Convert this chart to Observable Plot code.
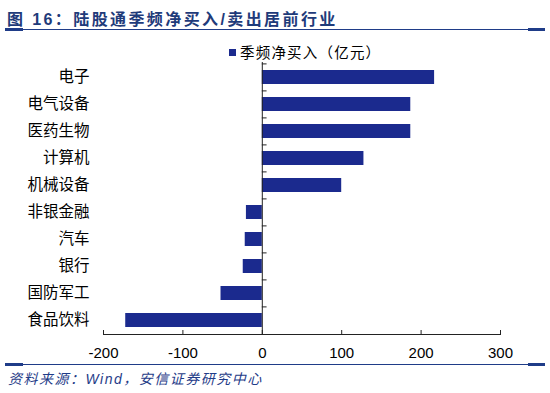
<!DOCTYPE html>
<html>
<head>
<meta charset="utf-8">
<script src="https://cdn.jsdelivr.net/npm/d3@7"></script>
<script src="https://cdn.jsdelivr.net/npm/@observablehq/plot@0.6"></script>
<style>
  body { margin: 0; background: #fff; }
  #wrap { position: relative; width: 550px; height: 393px; overflow: hidden; font-family: "Liberation Sans", "Noto Sans CJK SC", sans-serif; text-spacing-trim: space-all; }
  #title { position: absolute; left: 7px; top: 6px; font-size: 16px; font-weight: bold; color: #1F3B7A; letter-spacing: 2.4px; white-space: nowrap; font-family: "Liberation Sans", "Noto Sans CJK SC", sans-serif; }
  .hline { position: absolute; height: 1px; background: #1F3C88; }
  .thick { position: absolute; height: 3px; background: #1F3C88; }
  #legend { position: absolute; left: 229px; top: 41px; font-size: 14.5px; color: #000; white-space: nowrap; font-family: "Noto Sans CJK SC", sans-serif; text-spacing-trim: space-all; }
  #legend .sw { display: inline-block; width: 7px; height: 7px; background: #1B2A8E; margin-right: 4px; vertical-align: 2px; }
  #legend .lt { letter-spacing: 1.2px; }
  #caption { position: absolute; left: 8px; top: 368px; font-size: 14px; font-style: italic; color: #1F3C88; letter-spacing: 1.5px; white-space: nowrap; font-family: "Liberation Sans", "Noto Sans CJK SC", sans-serif; }
  #chart { position: absolute; left: 0; top: 0; }
</style>
</head>
<body>
<div id="wrap">
  <div id="chart"></div>
  <div id="title">图 16：陆股通季频净买入/卖出居前行业</div>
  <div class="hline" style="left:5px; width:540px; top:29px;"></div>
  <div class="thick" style="left:5px; width:18px; top:28px;"></div>
  <div class="thick" style="left:528px; width:17px; top:28px;"></div>
  <div id="legend"><span class="sw"></span><span class="lt" id="legendText"></span></div>
  <div class="hline" style="left:5px; width:540px; top:364px;"></div>
  <div class="thick" style="left:5px; width:18px; top:363px;"></div>
  <div class="thick" style="left:528px; width:17px; top:363px;"></div>
  <div id="caption">资料来源：Wind，安信证券研究中心</div>
</div>
<script>
const categories = ["电子", "电气设备", "医药生物", "计算机", "机械设备", "非银金融", "汽车", "银行", "国防军工", "食品饮料"];
const values = [217, 187, 187, 128, 100, -20, -21.5, -24, -52, -172];
const xTicks = [-200, -100, 0, 100, 200, 300];
const seriesName = "季频净买入（亿元）";

document.getElementById("legendText").textContent = seriesName;

const data = categories.map((c, i) => ({name: c, value: values[i]}));

const chart = Plot.plot({
  width: 550,
  height: 393,
  marginTop: 62,
  marginBottom: 59,
  marginLeft: 103,
  marginRight: 50,
  style: {fontFamily: '"Liberation Sans", "Noto Sans CJK SC", sans-serif', fontSize: "15px", color: "#000", background: "transparent"},
  x: {domain: [-200, 300]},
  y: {domain: categories, paddingInner: 0.5, paddingOuter: 0.25},
  marks: [
    Plot.barX(data, {x: "value", y: "name", fill: "#1B2A8E"}),
    Plot.ruleX([0], {stroke: "#222", strokeWidth: 1}),
    Plot.ruleY(categories, {y: d => d, x1: 0, x2: 6, dy: -13.6, stroke: "#222"}),
    Plot.frame({anchor: "bottom", stroke: "#222"}),
    Plot.axisX({ticks: xTicks, tickSize: -4, tickPadding: 17, tickFormat: d => String(d), fontSize: 15, label: null, stroke: "#222"}),
    Plot.axisY({tickSize: 0, tickPadding: 14, fontSize: 15.5, label: null})
  ]
});
document.getElementById("chart").appendChild(chart);
</script>
</body>
</html>
